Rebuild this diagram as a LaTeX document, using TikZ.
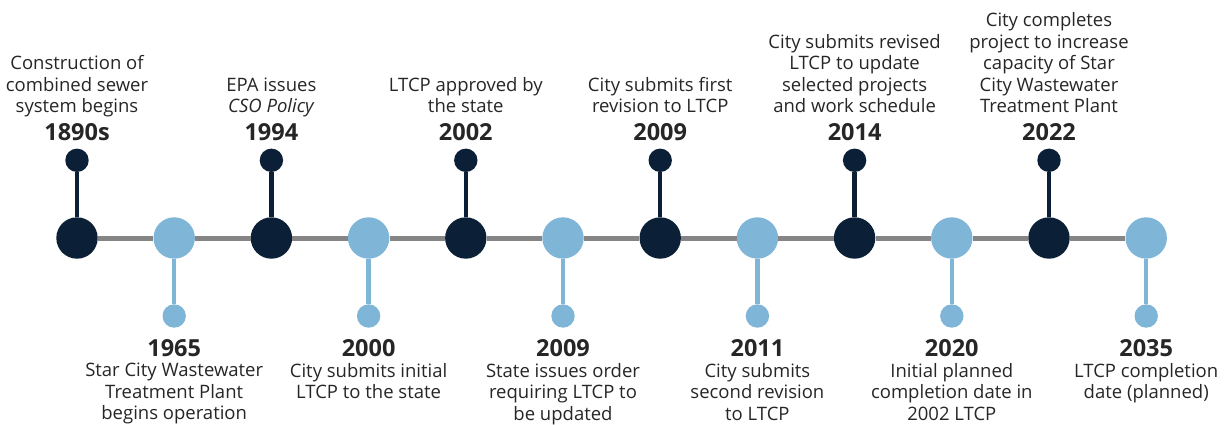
\documentclass[tikz,border=0pt]{standalone}
\usepackage{fontspec}
\setmainfont{Open Sans}
\usetikzlibrary{positioning}
\definecolor{NavyDot}{HTML}{0B2036}
\definecolor{SkyDot}{HTML}{7FB5D6}
\definecolor{AxisGray}{HTML}{858585}
\definecolor{InkText}{HTML}{262626}

\begin{document}
\begin{tikzpicture}[x=1pt,y=1pt,
      bigdot/.style={circle,inner sep=0pt,minimum size=41.4pt},
      tipdot/.style={circle,inner sep=0pt,minimum size=23.4pt},
      navy/.style={fill=NavyDot},
      sky/.style={fill=SkyDot},
      yr/.style={font=\fontsize{23.5}{26}\selectfont\bfseries,text=InkText,inner sep=0pt,anchor=base},
      note/.style={font=\fontsize{18.5}{21.6}\selectfont,text=InkText,align=center,inner sep=0pt},
      upnote/.style={note,anchor=south,text depth=0pt},
      downnote/.style={note,anchor=north},
      stem/.style={line width=4.5pt},
      axis/.style={AxisGray,line width=5pt}]
    \useasboundingbox (0,0) rectangle (1228,424);
    % events above the line
    \node[bigdot,navy] (ev1)  at (77,186)     {};
    \node[tipdot,navy] (tip1) at (77,263.7)   {};
    \node[yr]          (yr1)  at (77,283.5)   {1890s};
    \node[upnote]      (txt1) at (77,311)     {Construction of\\combined sewer\\system begins};
    \node[bigdot,navy] (ev3)  at (271.4,186)  {};
    \node[tipdot,navy] (tip3) at (271.4,263.7){};
    \node[yr]          (yr3)  at (271.4,283.5){1994};
    \node[upnote]      (txt3) at (271.4,311)  {EPA issues\\\textit{CSO Policy}};
    \node[bigdot,navy] (ev5)  at (465.8,186)  {};
    \node[tipdot,navy] (tip5) at (465.8,263.7){};
    \node[yr]          (yr5)  at (465.8,283.5){2002};
    \node[upnote]      (txt5) at (465.8,311)  {LTCP approved by\\the state};
    \node[bigdot,navy] (ev7)  at (660.2,186)  {};
    \node[tipdot,navy] (tip7) at (660.2,263.7){};
    \node[yr]          (yr7)  at (660.2,283.5){2009};
    \node[upnote]      (txt7) at (660.2,311)  {City submits first\\revision to LTCP};
    \node[bigdot,navy] (ev9)  at (854.6,186)  {};
    \node[tipdot,navy] (tip9) at (854.6,263.7){};
    \node[yr]          (yr9)  at (854.6,283.5){2014};
    \node[upnote]      (txt9) at (854.6,311)  {City submits revised\\LTCP to update\\selected projects\\and work schedule};
    \node[bigdot,navy] (ev11)  at (1049,186)  {};
    \node[tipdot,navy] (tip11) at (1049,263.7){};
    \node[yr]          (yr11)  at (1049,283.5){2022};
    \node[upnote]      (txt11) at (1049,311)  {City completes\\project to increase\\capacity of Star\\City Wastewater\\Treatment Plant};
    % events below the line
    \node[bigdot,sky]  (ev2)  at (174.2,186)  {};
    \node[tipdot,sky]  (tip2) at (174.2,108)  {};
    \node[yr]          (yr2)  at (174.2,67.5) {1965};
    \node[downnote]    (txt2) at (174.2,61)   {Star City Wastewater\\Treatment Plant\\begins operation};
    \node[bigdot,sky]  (ev4)  at (368.6,186)  {};
    \node[tipdot,sky]  (tip4) at (368.6,108)  {};
    \node[yr]          (yr4)  at (368.6,67.5) {2000};
    \node[downnote]    (txt4) at (368.6,61)   {City submits initial\\LTCP to the state};
    \node[bigdot,sky]  (ev6)  at (563,186)    {};
    \node[tipdot,sky]  (tip6) at (563,108)    {};
    \node[yr]          (yr6)  at (563,67.5)   {2009};
    \node[downnote]    (txt6) at (563,61)     {State issues order\\requiring LTCP to\\be updated};
    \node[bigdot,sky]  (ev8)  at (757.4,186)  {};
    \node[tipdot,sky]  (tip8) at (757.4,108)  {};
    \node[yr]          (yr8)  at (757.4,67.5) {2011};
    \node[downnote]    (txt8) at (757.4,61)   {City submits\\second revision\\to LTCP};
    \node[bigdot,sky]  (ev10)  at (951.8,186) {};
    \node[tipdot,sky]  (tip10) at (951.8,108) {};
    \node[yr]          (yr10)  at (951.8,67.5){2020};
    \node[downnote]    (txt10) at (951.8,61)  {Initial planned\\completion date in\\2002 LTCP};
    \node[bigdot,sky]  (ev12)  at (1146.2,186){};
    \node[tipdot,sky]  (tip12) at (1146.2,108){};
    \node[yr]          (yr12)  at (1146.2,67.5){2035};
    \node[downnote]    (txt12) at (1146.2,61) {LTCP completion\\date (planned)};
    % stems and axis
    \foreach \i in {1,3,5,7,9,11}
      \draw[stem,NavyDot] (ev\i) -- (tip\i);
    \foreach \i in {2,4,6,8,10,12}
      \draw[stem,SkyDot] (ev\i) -- (tip\i);
    \foreach \a/\b in {1/2,2/3,3/4,4/5,5/6,6/7,7/8,8/9,9/10,10/11,11/12}
      \draw[axis] (ev\a) -- (ev\b);
  \end{tikzpicture}
\end{document}
